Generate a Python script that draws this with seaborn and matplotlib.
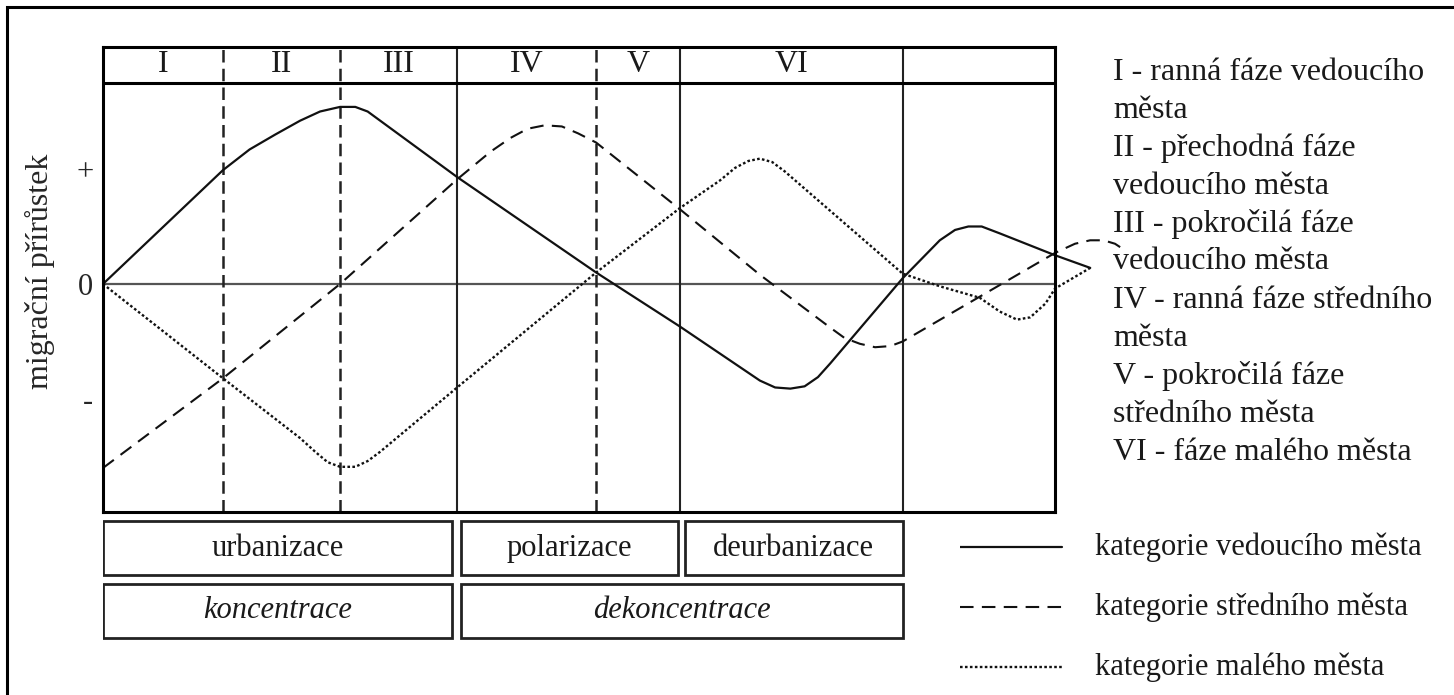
import matplotlib
matplotlib.use("Agg")
import matplotlib.pyplot as plt
from matplotlib.patches import Rectangle
import pandas as pd
import seaborn as sns

# hranice fazi (x v % sirky grafu) a jejich styl
hranice = [0, 12.6, 24.9, 37.2, 51.8, 60.6, 84.0, 100]
hranice_styl = ["-", "--", "--", "-", "--", "-", "-", "-"]
faze = ["I", "II", "III", "IV", "V", "VI", ""]

# krivky (y: "+" = 1, "-" = -1)
ved_x = [0.0, 12.6, 15.4, 18.1, 20.7, 22.8, 24.9, 26.5, 27.8, 37.2, 51.8, 60.6, 69.0,
         70.6, 72.2, 73.7, 75.1, 76.4, 84.0, 87.9, 89.5, 90.9, 92.3, 94.2, 100.0, 103.7]
ved_y = [0.0, 0.99, 1.17, 1.30, 1.42, 1.50, 1.54, 1.54, 1.50, 0.93, 0.10, -0.37, -0.84,
         -0.90, -0.91, -0.89, -0.81, -0.69, 0.05, 0.38, 0.47, 0.50, 0.50, 0.44, 0.25, 0.14]

str_x = [0.0, 12.6, 24.9, 37.2, 40.7, 42.8, 44.6, 46.4, 48.2, 49.9, 51.8, 60.6, 69.0,
         76.4, 77.9, 79.5, 81.1, 82.7, 84.0, 92.1, 100.0, 102.1, 103.7, 105.1, 106.3, 107.4]
str_y = [-1.60, -0.82, 0.0, 0.91, 1.15, 1.27, 1.35, 1.38, 1.37, 1.31, 1.23, 0.65, 0.08,
         -0.38, -0.47, -0.52, -0.55, -0.54, -0.50, -0.11, 0.27, 0.35, 0.38, 0.38, 0.35, 0.29]

mal_x = [0.0, 12.6, 20.7, 22.3, 23.6, 24.9, 26.5, 27.8, 29.1, 37.2, 51.8, 60.6, 64.8,
         66.4, 67.8, 69.0, 70.3, 71.6, 84.0, 87.9, 92.1, 94.2, 96.0, 97.4, 99.0, 100.0, 103.7]
mal_y = [0.0, -0.82, -1.34, -1.46, -1.55, -1.59, -1.59, -1.54, -1.46, -0.90, 0.10, 0.66, 0.90,
         1.01, 1.07, 1.09, 1.06, 0.98, 0.09, -0.02, -0.12, -0.24, -0.31, -0.29, -0.17, -0.04, 0.14]

kategorie = ["vedoucího", "středního", "malého"]
legenda = ["kategorie vedoucího města", "kategorie středního města", "kategorie malého města"]

# spodni ramecky
proces = ["urbanizace", "polarizace", "deurbanizace"]
proces_od = [0.0, 37.6, 61.1]
proces_do = [36.7, 60.4, 84.0]
koncentrace = ["koncentrace", "dekoncentrace"]
konc_od = [0.0, 37.6]
konc_do = [36.7, 84.0]

popis_fazi = ["I - ranná fáze vedoucího", "města", "II - přechodná fáze", "vedoucího města",
              "III - pokročilá fáze", "vedoucího města", "IV - ranná fáze středního", "města",
              "V - pokročilá fáze", "středního města", "VI - fáze malého města"]

df = pd.concat([
    pd.DataFrame({"x": ved_x, "y": ved_y, "kategorie": kategorie[0]}),
    pd.DataFrame({"x": str_x, "y": str_y, "kategorie": kategorie[1]}),
    pd.DataFrame({"x": mal_x, "y": mal_y, "kategorie": kategorie[2]}),
])

sns.set_theme(style="white")
plt.rcParams["font.family"] = ["Liberation Serif", "DejaVu Serif"]
plt.rcParams["text.color"] = "#1a1a1a"

W, H = 1454, 695
fig = plt.figure(figsize=(W / 100, H / 100), dpi=100)

y_min, y_max, y_hlav = -1.983, 2.061, 1.748
ax = fig.add_axes([103 / W, 1 - 512 / H, 952 / W, 465 / H])
dashes = {"vedoucího": "", "středního": (6.5, 4.0), "malého": (1.1, 1.0)}
sns.lineplot(data=df, x="x", y="y", style="kategorie", style_order=kategorie,
             dashes=dashes, color="black", sort=False, estimator=None,
             legend=False, linewidth=1.5, ax=ax)
for ln, lw in zip(ax.lines, [1.6, 1.5, 1.7]):
    ln.set_clip_on(False)
    ln.set_linewidth(lw)
    ln.set_color("#111111")

ax.set_xlim(0, 100)
ax.set_ylim(y_min, y_max)
ax.axhline(0, color="#555555", lw=1.6, zorder=1)
ax.axhline(y_hlav, color="black", lw=2.2)
for xv, st in zip(hranice[1:-1], hranice_styl[1:-1]):
    if st == "--":
        ax.axvline(xv, color="#222222", lw=1.8, linestyle=(0, (5, 2.5)), zorder=1)
    else:
        ax.axvline(xv, color="#222222", lw=1.5, zorder=1)
for i, f in enumerate(faze):
    ax.text((hranice[i] + hranice[i + 1]) / 2, (y_hlav + y_max) / 2, f,
            ha="center", va="center", fontsize=23)

for s in ax.spines.values():
    s.set_linewidth(2.2)
    s.set_color("black")
ax.set_xticks([])
ax.set_yticks([1, 0, -1])
ax.set_yticklabels(["+", "0", "-"], fontsize=22)
ax.tick_params(axis="y", length=0, pad=7)
ax.set_xlabel("")
ax.set_ylabel("migrační přírůstek", fontsize=23, va="center")
ax.yaxis.set_label_coords(-0.066, 0.518)

# ramecky procesu
axb = fig.add_axes([103 / W, 1 - 643 / H, 952 / W, 127 / H])
axb.barh([0] * len(proces), [b - a for a, b in zip(proces_od, proces_do)], left=proces_od,
         height=0.857, fill=False, edgecolor="#222222", linewidth=2)
axb.barh([1] * len(koncentrace), [b - a for a, b in zip(konc_od, konc_do)], left=konc_od,
         height=0.857, fill=False, edgecolor="#222222", linewidth=2)
for t, a, b in zip(proces, proces_od, proces_do):
    axb.text((a + b) / 2, 0, t, ha="center", va="center", fontsize=22)
for t, a, b in zip(koncentrace, konc_od, konc_do):
    axb.text((a + b) / 2, 1, t, ha="center", va="center", fontsize=22, style="italic")
axb.set_xlim(0, 100)
axb.set_ylim(1.508, -0.508)
axb.axis("off")

# legenda car
axl = fig.add_axes([960 / W, 0, 494 / W, 179 / H])
axl.set_xlim(0, 1)
axl.set_ylim(2.467, -0.517)
axl.axis("off")
for i, (lab, ln) in enumerate(zip(legenda, ax.lines)):
    axl.plot([0, 0.2065], [i, i], color="#111111", lw=ln.get_linewidth(),
             linestyle=ln.get_linestyle() if i == 0 else (0, dashes[kategorie[i]]))
    axl.text(0.273, i, lab, ha="left", va="center", fontsize=22)

# popis fazi vpravo
for i, t in enumerate(popis_fazi):
    fig.text(1113 / W, 1 - (72 + 38 * i) / H, t, ha="left", va="center", fontsize=23)

# vnejsi ramecek
fig.patches.append(Rectangle((7 / W, -0.1), 1.2, 1.1 - 7 / H,
                             transform=fig.transFigure, fill=False, lw=2.2,
                             edgecolor="black"))

fig.savefig("out.png", dpi=100)
